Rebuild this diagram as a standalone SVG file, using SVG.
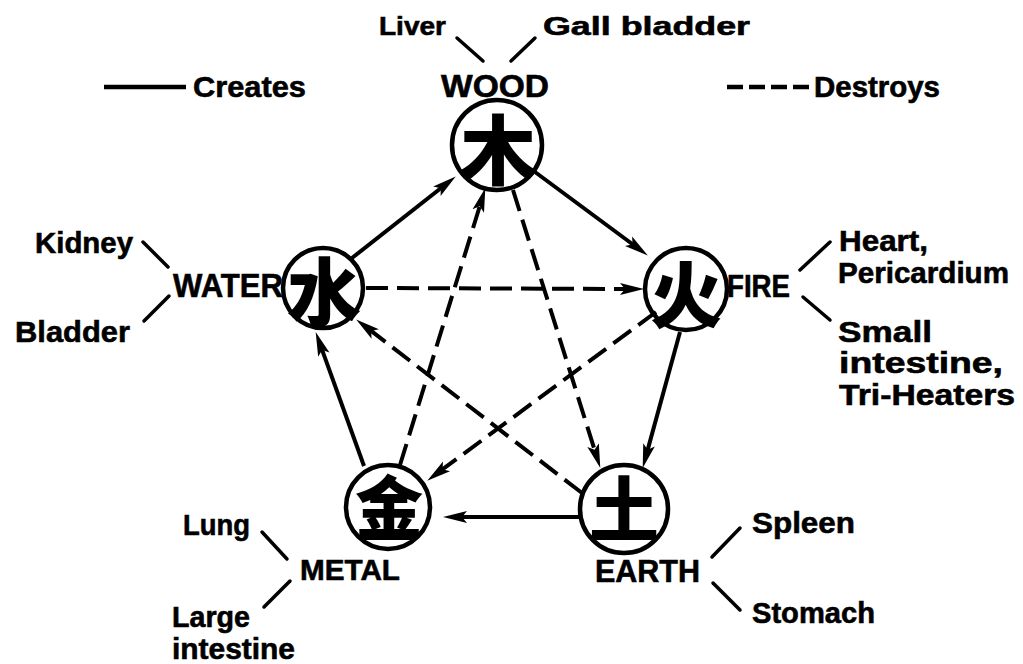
<svg xmlns="http://www.w3.org/2000/svg" width="1023" height="664" viewBox="0 0 1023 664">
<defs>
<style>
.bg{fill:#fff}
.t{font-family:"Liberation Sans","DejaVu Sans",sans-serif;font-weight:bold;fill:#000;stroke:#000;stroke-width:0.6}
.cjk{font-family:"Noto Sans CJK SC","Noto Sans CJK JP",sans-serif;font-weight:900;fill:#000;text-anchor:middle;dominant-baseline:central}
.ring{fill:none;stroke:#000;stroke-width:4.5}
.tick{stroke:#000;stroke-width:3.5;stroke-linecap:round}
.solid{stroke:#000;stroke-width:4;fill:none;marker-end:url(#ah)}
.dash{stroke:#000;stroke-width:4;fill:none;stroke-dasharray:22 9;marker-end:url(#ah)}
</style>
<marker id="ah" markerUnits="userSpaceOnUse" viewBox="0 0 26 14" markerWidth="26" markerHeight="14" refX="13" refY="7" orient="auto">
<path d="M0,1 L24,7 L0,13 L5,7 Z" fill="#000"/>
</marker>
</defs>
<rect class="bg" x="0" y="0" width="1023" height="664"/>

<g id="legend">
<line x1="104" y1="87" x2="186" y2="87" stroke="#000" stroke-width="4.5"/>
<text class="t" x="193" y="97" font-size="30" textLength="113" lengthAdjust="spacingAndGlyphs">Creates</text>
<line x1="727" y1="87" x2="810" y2="87" stroke="#000" stroke-width="4.5" stroke-dasharray="16 6"/>
<text class="t" x="814" y="97" font-size="30" textLength="126" lengthAdjust="spacingAndGlyphs">Destroys</text>
</g>

<g id="connectors">
<line class="solid" x1="352" y1="258" x2="447.1" y2="183.2"/>
<line class="solid" x1="535" y1="172" x2="639" y2="249"/>
<line class="solid" x1="680" y1="332" x2="645.6" y2="457.4"/>
<line class="solid" x1="580" y1="517" x2="454" y2="517"/>
<line class="solid" x1="364" y1="466" x2="319.4" y2="342.4"/>
<line class="dash" x1="366" y1="288" x2="633" y2="289"/>
<line class="dash" x1="656" y1="312" x2="436.1" y2="474.1"/>
<line class="dash" x1="582" y1="493" x2="364.9" y2="326.1"/>
<line class="dash" x1="513" y1="190" x2="597" y2="457.5"/>
<line class="dash" x1="400" y1="465" x2="482.1" y2="198.6"/>
</g>

<g id="node-wood">
<circle class="ring" cx="497" cy="145" r="45"/>
<text class="cjk" x="498" y="146" font-size="76">木</text>
<text class="t" x="441" y="97" font-size="31" textLength="108" lengthAdjust="spacingAndGlyphs">WOOD</text>
<line class="tick" x1="457" y1="38" x2="483" y2="61"/>
<line class="tick" x1="511" y1="61" x2="535" y2="38"/>
<text class="t" x="379" y="35" font-size="26" textLength="67" lengthAdjust="spacingAndGlyphs">Liver</text>
<text class="t" x="543" y="35" font-size="26" textLength="207" lengthAdjust="spacingAndGlyphs">Gall bladder</text>
</g>

<g id="node-water">
<circle class="ring" cx="323" cy="288" r="40"/>
<text class="cjk" x="324" y="287" font-size="74">水</text>
<text class="t" x="173" y="297" font-size="33" textLength="110" lengthAdjust="spacingAndGlyphs">WATER</text>
<line class="tick" x1="143" y1="242" x2="168" y2="267"/>
<line class="tick" x1="144" y1="321" x2="169" y2="296"/>
<text class="t" x="35" y="253" font-size="30" textLength="98" lengthAdjust="spacingAndGlyphs">Kidney</text>
<text class="t" x="15" y="342" font-size="30" textLength="115" lengthAdjust="spacingAndGlyphs">Bladder</text>
</g>

<g id="node-fire">
<circle class="ring" cx="686" cy="289" r="41"/>
<text class="cjk" x="686" y="290" font-size="72">火</text>
<text class="t" x="727" y="297" font-size="31" textLength="63" lengthAdjust="spacingAndGlyphs">FIRE</text>
<line class="tick" x1="800" y1="270" x2="830" y2="242"/>
<line class="tick" x1="803" y1="297" x2="830" y2="320"/>
<text class="t" x="839" y="251" font-size="30" textLength="89" lengthAdjust="spacingAndGlyphs">Heart,</text>
<text class="t" x="838" y="283" font-size="29" textLength="171" lengthAdjust="spacingAndGlyphs">Pericardium</text>
<text class="t" x="838" y="342" font-size="30" textLength="94" lengthAdjust="spacingAndGlyphs">Small</text>
<text class="t" x="839" y="373" font-size="29" textLength="164" lengthAdjust="spacingAndGlyphs">intestine,</text>
<text class="t" x="839" y="405" font-size="29" textLength="176" lengthAdjust="spacingAndGlyphs">Tri-Heaters</text>
</g>

<g id="node-metal">
<circle class="ring" cx="388" cy="507" r="42"/>
<text class="cjk" x="389" y="503" font-size="68">金</text>
<line x1="360" y1="538" x2="416" y2="538" stroke="#000" stroke-width="4"/>
<text class="t" x="300" y="580" font-size="30" textLength="100" lengthAdjust="spacingAndGlyphs">METAL</text>
<line class="tick" x1="262" y1="532" x2="287" y2="559"/>
<line class="tick" x1="290" y1="581" x2="264" y2="607"/>
<text class="t" x="183" y="535" font-size="30" textLength="67" lengthAdjust="spacingAndGlyphs">Lung</text>
<text class="t" x="172" y="627" font-size="29" textLength="78" lengthAdjust="spacingAndGlyphs">Large</text>
<text class="t" x="172" y="659" font-size="29" textLength="123" lengthAdjust="spacingAndGlyphs">intestine</text>
</g>

<g id="node-earth">
<circle class="ring" cx="624" cy="509" r="44"/>
<text class="cjk" x="624" y="505" font-size="70">土</text>
<line x1="591" y1="538" x2="657" y2="538" stroke="#000" stroke-width="4"/>
<text class="t" x="595" y="582" font-size="31" textLength="105" lengthAdjust="spacingAndGlyphs">EARTH</text>
<line class="tick" x1="712" y1="557" x2="740" y2="528"/>
<line class="tick" x1="713" y1="583" x2="740" y2="610"/>
<text class="t" x="752" y="533" font-size="30" textLength="103" lengthAdjust="spacingAndGlyphs">Spleen</text>
<text class="t" x="752" y="623" font-size="29" textLength="123" lengthAdjust="spacingAndGlyphs">Stomach</text>
</g>
</svg>
